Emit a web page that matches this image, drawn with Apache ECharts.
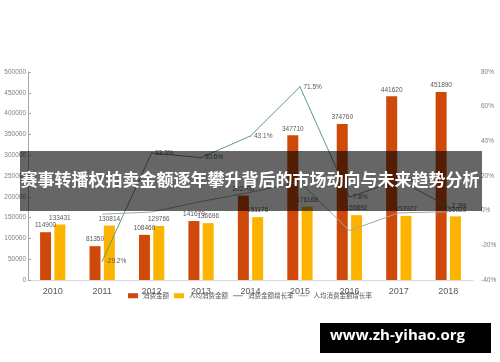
<!DOCTYPE html>
<html><head><meta charset="utf-8">
<script src="https://cdn.jsdelivr.net/npm/echarts@6/dist/echarts.min.js"></script>
<style>html,body{margin:0;padding:0;background:#fff}#c{width:500px;height:362px}</style>
</head><body><div id="c"></div>
<script>
const years = ['2010','2011','2012','2013','2014','2015','2016','2017','2018'];
const spend = [114900, 81350, 108460, 141670, 202700, 347710, 374760, 441620, 451890];
const perCapita = [133431, 130814, 129766, 136696, 151176, 176168, 155892, 153922, 153029];
const spendGrowth = [null, -29.2, 33.3, 30.6, 43.1, 71.5, 7.8, 17.8, 2.3];
const perCapitaGrowth = [null, -2.0, -0.8, 5.3, 10.6, 16.5, -11.5, -1.3, -0.6];
const leftTicks = {min: 0, max: 500000, interval: 50000};
const rightTicks = {min: -40, max: 80, interval: 20};
const titleText = '赛事转播权拍卖金额逐年攀升背后的市场动向与未来趋势分析';
const siteText = 'www.zh-yihao.org';

const chart = echarts.init(document.getElementById('c'), null, {renderer: 'canvas'});
const txt = '#595959';
const lineIcon = 'path://M0,4 L20,4 L20,6 L0,6 Z';
chart.setOption({
  animation: false,
  grid: {left: 28, right: 27, top: 72, bottom: 82},
  legend: {
    bottom: 58, left: 'center', itemGap: 5, itemWidth: 10, itemHeight: 5,
    textStyle: {fontSize: 6.5, color: txt, fontFamily: 'Noto Sans CJK SC'},
    data: [
      {name: '消费金额', icon: 'rect'},
      {name: '人均消费金额', icon: 'rect'},
      {name: '消费金额增长率', icon: lineIcon},
      {name: '人均消费金额增长率', icon: lineIcon}
    ]
  },
  xAxis: {
    type: 'category', data: years,
    axisLine: {lineStyle: {color: '#d9d9d9'}},
    axisTick: {show: false},
    axisLabel: {fontSize: 9, color: txt, margin: 7}
  },
  yAxis: [
    {type: 'value', min: leftTicks.min, max: leftTicks.max, interval: leftTicks.interval,
     axisLine: {show: true, lineStyle: {color: '#a6a6a6'}},
     axisTick: {show: true, length: 3, inside: true, lineStyle: {color: '#a6a6a6'}},
     splitLine: {show: false},
     axisLabel: {fontSize: 6.5, color: '#7f7f7f', margin: 2, formatter: v => String(v)}},
    {type: 'value', min: rightTicks.min, max: rightTicks.max, interval: rightTicks.interval,
     axisLine: {show: false}, axisTick: {show: false}, splitLine: {show: false},
     axisLabel: {fontSize: 6.5, color: '#7f7f7f', margin: 8, formatter: '{value}%'}}
  ],
  series: [
    {name: '消费金额', type: 'bar', data: spend, barWidth: 11, barGap: '30%',
     itemStyle: {color: '#cf4a0a'},
     label: {show: true, position: 'top', fontSize: 6.5, color: txt, distance: 3}},
    {name: '人均消费金额', type: 'bar', data: perCapita, barWidth: 11,
     itemStyle: {color: '#fdb400'},
     label: {show: true, position: 'top', fontSize: 6.5, color: txt, distance: 3}},
    {name: '消费金额增长率', type: 'line', yAxisIndex: 1, data: spendGrowth,
     symbol: 'circle', symbolSize: 1, showSymbol: true,
     lineStyle: {color: '#5b9e70', width: 1},
     itemStyle: {color: '#5b9e70'},
     label: {show: true, position: 'right', fontSize: 6.5, color: txt, distance: 3,
       formatter: '{c}%'}},
    {name: '人均消费金额增长率', type: 'line', yAxisIndex: 1, data: perCapitaGrowth,
     symbol: 'none', lineStyle: {color: '#a5a5a5', width: 1},
     itemStyle: {color: '#a5a5a5'}}
  ],
  graphic: [
    {type: 'rect', left: 20, top: 151, z: 100,
     shape: {width: 462, height: 60}, style: {fill: 'rgba(0,0,0,0.6)'}},
    {type: 'text', left: 'center', top: 171, z: 101,
     style: {text: titleText, fill: '#fff', font: 'bold 17px "Noto Sans CJK SC"'}},
    {type: 'rect', left: 320, top: 323, z: 100,
     shape: {width: 171, height: 30}, style: {fill: '#000'}},
    {type: 'text', left: 330, top: 328, z: 101,
     style: {text: siteText, fill: '#fff', font: 'bold 15px "Open Sans"'}}
  ]
});
</script></body></html>
